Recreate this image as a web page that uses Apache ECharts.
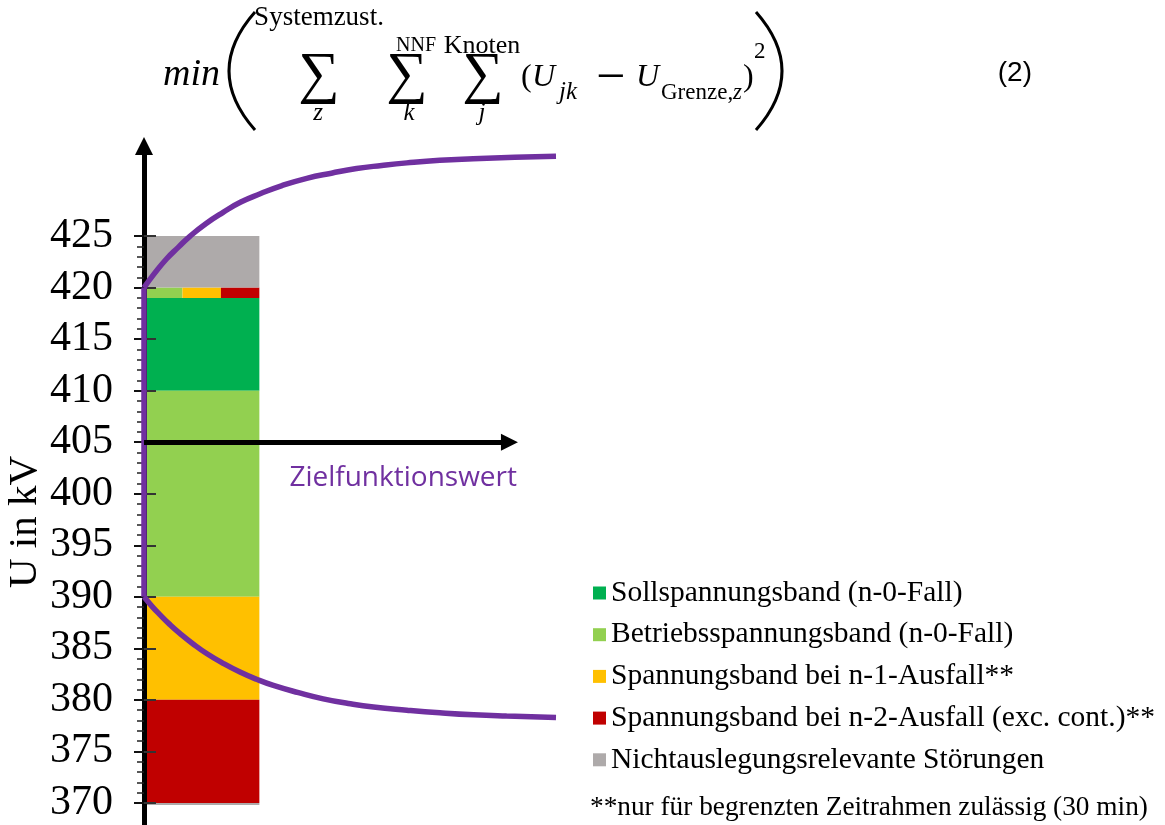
<!DOCTYPE html>
<html>
<head>
<meta charset="utf-8">
<script src="https://cdn.jsdelivr.net/npm/echarts@6.0.0/dist/echarts.min.js"></script>
<style>
html,body{margin:0;padding:0;background:#fff;}
#chart{width:1165px;height:825px;}
</style>
</head>
<body>
<div id="chart"></div>
<script>
// ---- data ----
var yTicks = [370, 375, 380, 385, 390, 395, 400, 405, 410, 415, 420, 425];
var yMinorTicks = [371,372,373,374,376,377,378,379,381,382,383,384,386,387,388,389,391,392,393,394,396,397,398,399,401,402,403,404,406,407,408,409,411,412,413,414,416,417,418,419,421,422,423,424];
var bandNames = ['Sollspannungsband (n-0-Fall)', 'Betriebsspannungsband (n-0-Fall)', 'Spannungsband bei n-1-Ausfall**', 'Spannungsband bei n-2-Ausfall (exc. cont.)**', 'Nichtauslegungsrelevante Störungen'];
var bandColors = ['#00B050', '#92D050', '#FFC000', '#C00000', '#AEAAAA'];
// rectangles: [x0, x1, uLow, uHigh]
var sollBand = [[0, 28, 410, 419]];
var betriebBand = [[0, 28, 390, 410], [0, 9.33, 419, 420]];
var n1Band = [[0, 28, 380, 390], [9.33, 18.67, 419, 420]];
var n2Band = [[0, 28, 370, 380], [18.67, 28, 419, 420]];
var nichtBand = [[0, 28, 420, 425], [0, 28, 369.8, 370]];
// objective-function curve [Zielfunktionswert, U]
var curveUpper = [[0, 420], [2.5, 421.35], [5.5, 422.8], [8.3, 423.9], [11.2, 425.0], [15, 426.2], [19.2, 427.3], [23.5, 428.3], [28.2, 429.1], [33.5, 429.9], [39.5, 430.6], [45.5, 431.1], [51.6, 431.55], [57.7, 431.85], [63.8, 432.1], [71.8, 432.35], [79.9, 432.5], [90, 432.65], [100, 432.75]];
var curveMiddle = [[0, 420], [0, 390]];
var curveLower = [[0, 390], [2, 389.05], [3.9, 388.25], [6.3, 387.3], [8.7, 386.45], [12, 385.4], [15.2, 384.5], [19.2, 383.55], [23.3, 382.7], [27.3, 382.0], [31.4, 381.4], [37.5, 380.7], [43.5, 380.1], [49.6, 379.65], [55.7, 379.3], [63.8, 379.0], [71.8, 378.75], [80, 378.55], [88, 378.43], [100, 378.3]];
var xArrowEnd = 88.7;
var xArrowLevel = 405;

var chart = echarts.init(document.getElementById('chart'));

function renderRect(params, api) {
  var p0 = api.coord([api.value(0), api.value(3)]);
  var p1 = api.coord([api.value(1), api.value(2)]);
  return {
    type: 'rect',
    shape: { x: p0[0], y: p0[1], width: p1[0] - p0[0], height: p1[1] - p0[1] },
    style: { fill: api.visual('color') }
  };
}
var bandData = [sollBand, betriebBand, n1Band, n2Band, nichtBand];
var series = bandData.map(function (d, i) {
  return {
    type: 'custom', name: bandNames[i], data: d, renderItem: renderRect,
    encode: { x: [0, 1], y: [2, 3] }, itemStyle: { color: bandColors[i] },
    z: 1, silent: true, animation: false
  };
});
var purple = '#7030A0';
[curveUpper, curveLower].forEach(function (c, i) {
  series.push({
    type: 'line', name: 'curve' + i, data: c, smooth: 0.5,
    symbol: 'none', clip: false, lineStyle: { color: purple, width: 5.5, join: 'round' }, z: 3, animation: false, silent: true
  });
});
series.push({
  type: 'line', name: 'curveMid', data: curveMiddle, symbol: 'none', clip: false,
  lineStyle: { color: purple, width: 5.5 }, z: 3, animation: false, silent: true
});
series.push({
  type: 'line', name: 'xArrow', data: [], z: 5, animation: false, silent: true,
  markLine: {
    silent: true, animation: false, symbol: ['none', 'triangle'], symbolSize: [17, 17],
    label: { show: false },
    lineStyle: { color: '#000', width: 5, type: 'solid' },
    data: [[{ coord: [0, xArrowLevel] }, { coord: [xArrowEnd, xArrowLevel] }]]
  }
});

var yBase = { type: 'value', min: 367.86, max: 433.64, position: 'left', splitLine: { show: false }, z: 2 };
var serif = '"Liberation Serif", "Times New Roman", serif';
var math = '"Liberation Serif", "DejaVu Serif", serif';

function t(x, y, text, font, extra) {
  var st = { text: text, font: font, fill: '#000', verticalAlign: 'middle', align: 'left' };
  if (extra) { for (var k in extra) st[k] = extra[k]; }
  return { type: 'text', x: x, y: y, style: st };
}

var graphics = [
  { type: 'text', x: 25, y: 522, rotation: Math.PI / 2, style: { text: 'U in kV', font: '41px ' + serif, fill: '#000', align: 'center', verticalAlign: 'middle' } },
  { type: 'text', x: 517, y: 478, style: { text: 'Zielfunktionswert', font: '28px "Open Sans", sans-serif', fill: purple, align: 'right', verticalAlign: 'middle' } },
  t(590, 808, '**nur für begrenzten Zeitrahmen zulässig (30 min)', '27.3px ' + serif),
  // formula
  t(163, 75, 'min', 'italic 38px ' + math),
  { type: 'bezierCurve', shape: { x1: 255, y1: 12, cpx1: 203, cpy1: 71, x2: 255, y2: 130 }, style: { stroke: '#000', lineWidth: 3, fill: null } },
  { type: 'bezierCurve', shape: { x1: 756, y1: 12, cpx1: 808, cpy1: 71, x2: 756, y2: 130 }, style: { stroke: '#000', lineWidth: 3, fill: null } },
  t(319, 77, '∑', '58px ' + math, { align: 'center' }),
  t(407, 77, '∑', '58px ' + math, { align: 'center' }),
  t(483, 77, '∑', '58px ' + math, { align: 'center' }),
  t(319, 18, 'Systemzust.', '27px ' + math, { align: 'center' }),
  t(416, 46, 'NNF', '20px ' + math, { align: 'center' }),
  t(482, 46, 'Knoten', '26px ' + math, { align: 'center' }),
  t(318, 113, 'z', 'italic 25px ' + math, { align: 'center' }),
  t(409, 113, 'k', 'italic 25px ' + math, { align: 'center' }),
  t(482, 113, 'j', 'italic 25px ' + math, { align: 'center' }),
  t(521, 78, '(', '32px ' + math),
  t(532, 78, 'U', 'italic 32px ' + math),
  t(559, 92, 'jk', 'italic 25px ' + math),
  t(596, 79, '−', '52px ' + math),
  t(636, 78, 'U', 'italic 32px ' + math),
  t(661, 93, 'Grenze,', '23px ' + math),
  t(733, 93, 'z', 'italic 23px ' + math),
  t(743, 78, ')', '32px ' + math),
  t(754, 52, '2', '23px ' + math),
  t(1032, 73, '(2)', '28px "Liberation Sans", Arial, sans-serif', { align: 'right' })
];

chart.setOption({
  animation: false,
  backgroundColor: '#fff',
  grid: { left: 144, right: 609, top: 147, bottom: 0, containLabel: false },
  xAxis: { type: 'value', min: 0, max: 100, show: false },
  yAxis: [
    Object.assign({}, yBase, {
      axisLine: { show: true, symbol: ['none', 'triangle'], symbolSize: [18, 18], symbolOffset: [0, 1], lineStyle: { color: '#000', width: 5 } },
      axisTick: { show: true, customValues: yTicks, length: 10, lineStyle: { color: '#111', width: 2 } },
      axisLabel: { show: true, customValues: yTicks, margin: 31, color: '#000', fontFamily: serif, fontSize: 42 }
    }),
    Object.assign({}, yBase, {
      axisLine: { show: false },
      axisTick: { show: true, inside: true, customValues: yTicks, length: 12, lineStyle: { color: '#333', width: 2 } },
      axisLabel: { show: false }
    }),
    Object.assign({}, yBase, {
      axisLine: { show: false },
      axisTick: { show: true, customValues: yMinorTicks, length: 7, lineStyle: { color: '#222', width: 1.5 } },
      axisLabel: { show: false }
    })
  ],
  legend: {
    data: bandNames, orient: 'vertical', left: 588, top: 573, icon: 'rect',
    itemWidth: 13, itemHeight: 13, itemGap: 11.7, selectedMode: false,
    textStyle: { fontFamily: serif, fontSize: 29.5, color: '#000' }
  },
  graphic: graphics,
  series: series
});
</script>
</body>
</html>
